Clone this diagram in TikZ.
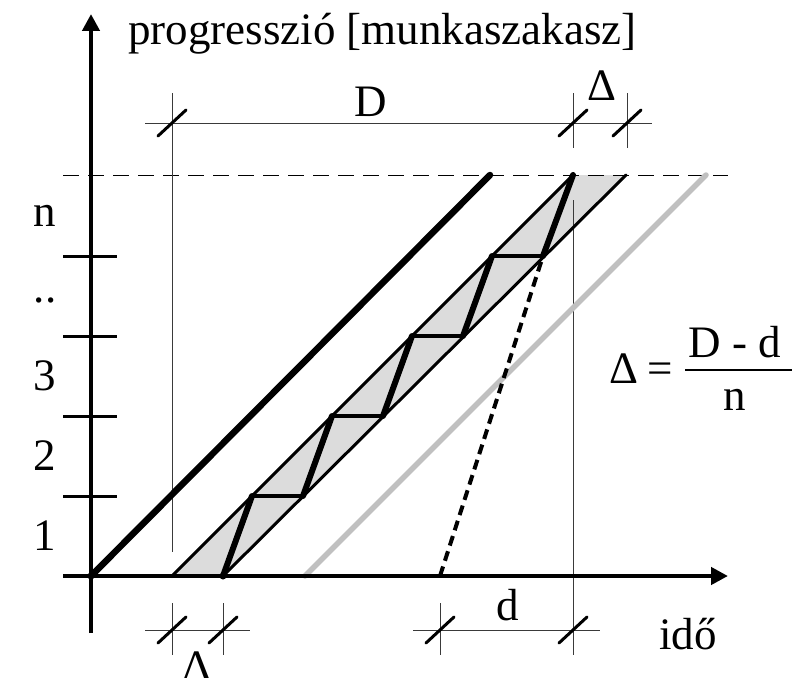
\documentclass[tikz,border=0pt]{standalone}
\usepackage{fontspec}
\setmainfont{Liberation Serif}
\usetikzlibrary{arrows.meta}
\definecolor{bandfill}{HTML}{DCDCDC}
\definecolor{lightline}{HTML}{C0C0C0}
\definecolor{dimline}{HTML}{3A3A3A}
\begin{document}
\begin{tikzpicture}[x=1pt,y=-1pt,
  lbl/.style={inner sep=0pt, anchor=base, font=\fontsize{45}{50}\selectfont},
  axisline/.style={line width=4.5pt, -{Triangle[length=17pt,width=17pt]}},
  tickmark/.style={line width=3pt},
  thinline/.style={line width=1pt, draw=dimline},
  slash/.style={line width=3pt, line cap=round},
  bandedge/.style={line width=3pt, line cap=round},
  zig/.style={line width=6pt, line cap=round, line join=round},
  zigflat/.style={line width=3.5pt, line cap=round},
  mainline/.style={line width=6.5pt, line cap=round},
  grayline/.style={line width=5.5pt, draw=lightline, line cap=round},
  topdash/.style={line width=1pt, dash pattern=on 16pt off 9pt},
  slowdash/.style={line width=4pt, dash pattern=on 10pt off 6pt}
]
\useasboundingbox (0,0) rectangle (792,677);

% coordinates
\coordinate (O) at (91,576);
\coordinate (b0L) at (172,576);
\coordinate (b0R) at (223,576);
\coordinate (b1L) at (252,496);
\coordinate (b1R) at (303,496);
\coordinate (b2L) at (332,416);
\coordinate (b2R) at (383,416);
\coordinate (b3L) at (412,336);
\coordinate (b3R) at (463,336);
\coordinate (b4L) at (492,256);
\coordinate (b4R) at (543,256);
\coordinate (b5L) at (573,175);
\coordinate (b5R) at (626,175);
\coordinate (mainTop) at (490,175);
\coordinate (grayB) at (305,576);
\coordinate (grayT) at (706,175);
\coordinate (dashB) at (440,576);

% band fill
\fill[bandfill] (b0L) -- (b5L) -- (b5R) -- (b0R) -- cycle;

% top dashed level line
\draw[topdash] (63,175) -- (728,175);

% thin extension lines
\draw[thinline] (172,93) -- (172,552);
\draw[thinline] (573,93) -- (573,148);
\draw[thinline] (573,200) -- (573,655);
\draw[thinline] (627,93) -- (627,148);
\draw[thinline] (172,603) -- (172,655);
\draw[thinline] (223,603) -- (223,655);
\draw[thinline] (440,603) -- (440,655);

% dimension lines
\draw[thinline] (145,123) -- (652,123);
\draw[thinline] (145,630) -- (250,630);
\draw[thinline] (413,630) -- (600,630);

% slashes
\foreach \p in {(172,123),(573,123),(627,123),(172,630),(223,630),(440,630),(573,630)}
  \draw[slash] \p ++(-14,13) -- ++(28,-26);

% gray line
\draw[grayline] (grayB) -- (grayT);

% band edges
\draw[bandedge] (b0L) -- (b5L);
\draw[bandedge] (b0R) -- (b5R);

% dashed slow line
\draw[slowdash] (dashB) -- (b4R);

% zigzag
\draw[zigflat] (b1L) -- (b1R);
\draw[zigflat] (b2L) -- (b2R);
\draw[zigflat] (b3L) -- (b3R);
\draw[zigflat] (b4L) -- (b4R);
\draw[zig] (b0R) -- (b1L);
\draw[zig] (b1R) -- (b2L);
\draw[zig] (b2R) -- (b3L);
\draw[zig] (b3R) -- (b4L);
\draw[zig] (b4R) -- (b5L);

% main thick line
\draw[mainline] (O) -- (mainTop);

% ticks
\foreach \yy in {256,336,416,496}
  \draw[tickmark] (63,\yy) -- (117,\yy);

% axes
\draw[axisline] (91,633) -- (91,14);
\draw[axisline] (63,576) -- (728,576);
\fill (O) circle (3.5pt);
\fill (b0L) circle (2pt);
\fill (b0R) circle (3.5pt);

% labels
\node[lbl, anchor=base west] (ylab) at (128,45) {progresszió [munkaszakasz]};
\node[lbl] (lD) at (371,116) {D};
\node[lbl] (lDt) at (602,100) {Δ};
\node[lbl] (lDb) at (197,681) {Δ};
\node[lbl] (ld) at (508,620) {d};
\node[lbl] (lido) at (688,649) {idő};
\node[lbl] (ln) at (45,226) {n};
\node[lbl] (ldots) at (45,302) {..};
\node[lbl] (l3) at (45,390) {3};
\node[lbl] (l2) at (45,470) {2};
\node[lbl] (l1) at (45,550) {1};

% formula
\node[lbl] (fD) at (624,383) {Δ};
\node[lbl] (feq) at (660,383) {=};
\node[lbl] (fnum) at (735,357) {D - d};
\node[lbl] (fden) at (735,410) {n};
\draw[line width=2.5pt] (685,370) -- (792,370);
\end{tikzpicture}
\end{document}
